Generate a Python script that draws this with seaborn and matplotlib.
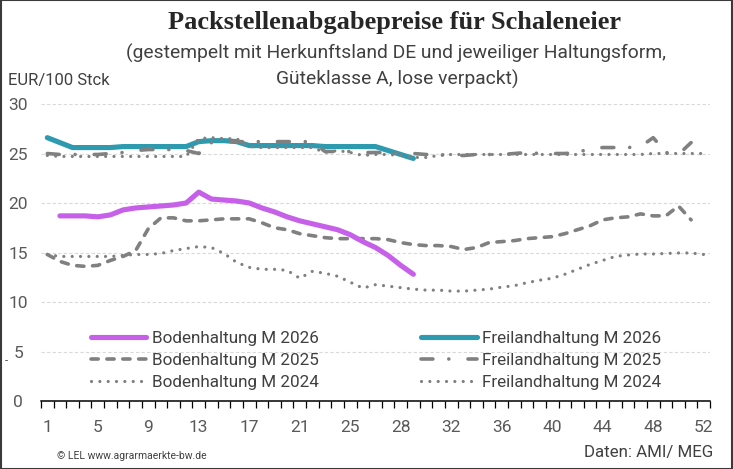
import numpy as np
import pandas as pd
import seaborn as sns
import matplotlib.pyplot as plt
from matplotlib.patches import Rectangle

# %%
# category positions 1..53 (Excel category axis, labels every 4th)
weeks = list(range(1, 54))
tick_pos = [1, 5, 9, 13, 17, 21, 25, 29, 33, 37, 41, 45, 49, 53]
tick_labels = ['1', '5', '9', '13', '17', '21', '25', '28', '32', '36', '40', '44', '48', '52']

boden_2026 = [np.nan, 18.7, 18.7, 18.7, 18.6, 18.8, 19.3, 19.5, 19.6, 19.7, 19.8, 20.0, 21.1,
              20.4, 20.3, 20.2, 20.0, 19.5, 19.1, 18.6, 18.2, 17.9, 17.6, 17.3, 16.8, 16.1,
              15.5, 14.7, 13.7, 12.8]
frei_2026 = [26.6, 26.1, 25.6, 25.6, 25.6, 25.6, 25.7, 25.7, 25.7, 25.7, 25.7, 25.7, 26.2,
             26.3, 26.3, 26.2, 25.8, 25.8, 25.8, 25.8, 25.8, 25.8, 25.7, 25.7, 25.7, 25.7,
             25.7, 25.3, 24.9, 24.5]
boden_2025 = [14.8, 14.1, 13.7, 13.6, 13.7, 14.2, 14.6, 15.2, 17.4, 18.5, 18.5, 18.2, 18.2,
              18.3, 18.4, 18.4, 18.4, 18.0, 17.5, 17.3, 16.9, 16.7, 16.5, 16.4, 16.4, 16.4,
              16.4, 16.3, 16.0, 15.8, 15.7, 15.7, 15.6, 15.3, 15.5, 16.0, 16.1, 16.2, 16.4,
              16.5, 16.6, 16.9, 17.3, 17.7, 18.3, 18.5, 18.6, 18.9, 18.7, 18.7, 19.7, 18.3]
frei_2025 = [25.0, 24.9, 24.9, 24.9, 24.9, 25.0, 25.1, 25.3, 25.4, 25.4, 25.4, 25.3, 25.0,
             26.1, 26.2, 26.2, 26.2, 26.2, 26.2, 26.2, 26.2, 26.2, 25.2, 25.2, 25.2, 25.1,
             25.1, 25.1, 25.0, 25.0, 24.9, 24.9, 24.8, 24.8, 24.9, 24.9, 24.9, 25.0, 25.1,
             25.0, 25.0, 25.0, 25.1, 25.5, 25.6, 25.6, 25.6, 25.7, 26.6, 25.1, 24.9, 26.1]
boden_2024 = [14.8, 14.6, 14.6, 14.6, 14.6, 14.6, 14.7, 14.8, 14.8, 14.9, 15.2, 15.4, 15.6,
              15.5, 14.9, 14.0, 13.5, 13.3, 13.3, 13.2, 12.4, 13.1, 12.9, 12.6, 12.0, 11.4,
              11.75, 11.6, 11.45, 11.3, 11.2, 11.2, 11.1, 11.1, 11.2, 11.3, 11.5, 11.65, 11.95,
              12.2, 12.4, 12.8, 13.3, 13.8, 14.2, 14.6, 14.75, 14.85, 14.85, 14.9, 14.95,
              14.95, 14.8]
frei_2024 = [24.8, 24.7, 24.7, 24.7, 24.7, 24.7, 24.7, 24.7, 24.7, 24.7, 24.7, 24.7, 26.5,
             26.6, 26.5, 26.5, 25.7, 25.6, 25.6, 25.6, 25.6, 25.6, 25.1, 25.3, 25.1, 24.8,
             24.9, 24.9, 24.8, 24.6, 24.6, 24.8, 24.9, 24.9, 24.9, 24.9, 24.9, 24.9, 24.9,
             24.9, 24.9, 24.9, 24.9, 24.9, 24.9, 24.9, 24.9, 24.9, 25.0, 25.0, 25.0, 25.0, 25.0]

labels = ['Bodenhaltung M 2026', 'Bodenhaltung M 2025', 'Bodenhaltung M 2024',
          'Freilandhaltung M 2026', 'Freilandhaltung M 2025', 'Freilandhaltung M 2024']

# %%
def pad(vals):
    return list(vals) + [np.nan] * (len(weeks) - len(vals))

df = pd.DataFrame({'KW': weeks})
for name, vals in zip(labels, [boden_2026, boden_2025, boden_2024, frei_2026, frei_2025, frei_2024]):
    df[name] = pad(vals)

sns.set_theme(style='white')
plt.rcParams['font.family'] = ['Roboto', 'DejaVu Sans']

fig = plt.figure(figsize=(7.33, 4.69), dpi=100)
ax = fig.add_axes([41 / 733, 1 - 401 / 469, 669 / 733, 297 / 469])

magenta = '#C660E9'
teal = '#2E9AAF'
gray = '#808080'

styles = {
    'Freilandhaltung M 2026': dict(color=teal, lw=3.7, ls='-', z=3),
    'Freilandhaltung M 2025': dict(color=gray, lw=2.6, ls=(0, (3.3, 4.4, 0.01, 5.3)), z=4),
    'Freilandhaltung M 2024': dict(color=gray, lw=2.3, ls=(0, (0.01, 2.6)), z=4),
    'Bodenhaltung M 2025': dict(color=gray, lw=2.6, ls=(0, (2.0, 2.4)), z=4),
    'Bodenhaltung M 2024': dict(color=gray, lw=2.3, ls=(0, (0.01, 2.6)), z=4),
    'Bodenhaltung M 2026': dict(color=magenta, lw=3.7, ls='-', z=5),
}
for name, st in styles.items():
    sns.lineplot(data=df, x='KW', y=name, ax=ax, color=st['color'], linewidth=st['lw'],
                 linestyle=st['ls'], label=name, zorder=st['z'],
                 dash_capstyle='round', solid_capstyle='round')

ax.set_xlim(0.5, 53.5)
ax.set_ylim(0, 30)
ax.set_xlabel('')
ax.set_ylabel('')
ax.set_xticks(tick_pos)
ax.set_xticklabels(tick_labels)
ax.set_xticks(np.arange(0.5, 54, 1), minor=True)
ax.tick_params(axis='x', which='major', length=0, pad=14, labelsize=12.5, labelcolor='#595959')
ax.tick_params(axis='x', which='minor', length=5, width=0.9, color='black', direction='out', bottom=True)
ax.set_yticks(range(0, 31, 5))
ax.tick_params(axis='y', length=0, pad=16.5, labelsize=12.5, labelcolor='#595959')
for t in ax.get_yticklabels():
    t.set_ha('center')

for v in range(5, 31, 5):
    ax.axhline(v, color='#D9D9D9', lw=0.8, ls=(0, (3, 2)), zorder=1)
ax.grid(False)
for s in ['left', 'right', 'top']:
    ax.spines[s].set_visible(False)
ax.spines['bottom'].set_color('black')
ax.spines['bottom'].set_linewidth(1.1)
ax.spines['bottom'].set_zorder(6)

h, l = ax.get_legend_handles_labels()
hmap = dict(zip(l, h))
leg = ax.legend([hmap[n] for n in labels], labels, ncol=2, loc='upper left',
                bbox_to_anchor=(0.0747, 0.236), frameon=False, fontsize=12.3,
                handlelength=3.25, handletextpad=0.3, columnspacing=6.0,
                labelspacing=0.42, borderpad=0, borderaxespad=0)
for t in leg.get_texts():
    t.set_color('#404040')

# titles
fig.text(395 / 733, 1 - 23 / 469, 'Packstellenabgabepreise für Schaleneier', ha='center', va='center',
         fontsize=19, fontweight='bold', family='Liberation Serif', color='#262626')
fig.text(396 / 733, 1 - 53 / 469, '(gestempelt mit Herkunftsland DE und jeweiliger Haltungsform,',
         ha='center', va='center', fontsize=13.9, color='#404040')
fig.text(397 / 733, 1 - 79 / 469, 'Güteklasse A, lose verpackt)', ha='center', va='center',
         fontsize=13.9, color='#404040')
fig.text(8 / 733, 1 - 80 / 469, 'EUR/100 Stck', ha='left', va='center', fontsize=12, color='#404040')
fig.text(5 / 733, 1 - 361 / 469, '-', ha='left', va='center', fontsize=8, color='#404040')
fig.text(713 / 733, 1 - 452 / 469, 'Daten: AMI/ MEG', ha='right', va='center', fontsize=12.2, color='#404040')
fig.text(57 / 733, 1 - 456 / 469, '© LEL www.agrarmaerkte-bw.de', ha='left', va='center',
         fontsize=7.5, color='#404040')

fig.patches.append(Rectangle((0.001, 0.001), 0.998, 0.998, transform=fig.transFigure, fill=False,
                             edgecolor='#3a3a3a', lw=1.5))

fig.savefig('out.png', dpi=100)
